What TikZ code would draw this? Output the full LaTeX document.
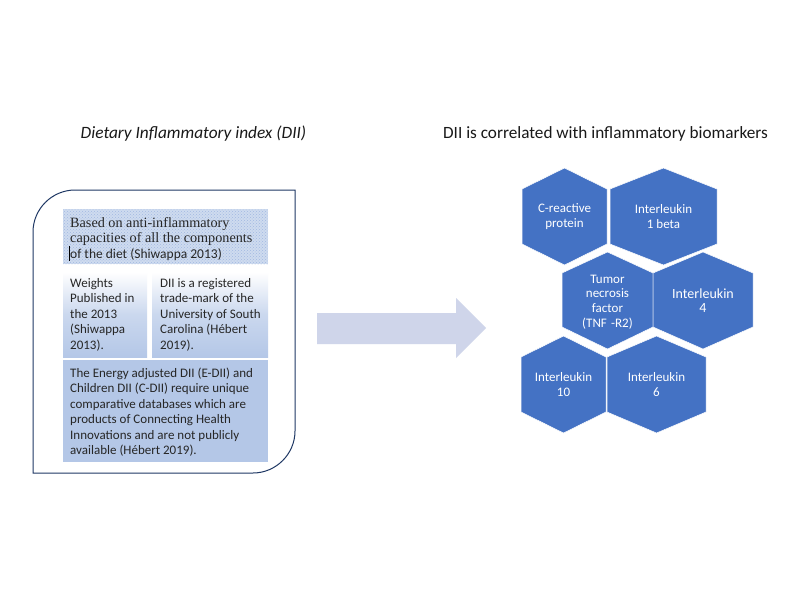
\documentclass[tikz,border=0pt]{standalone}
\usepackage{fontspec}
\setmainfont{Carlito}
\newfontfamily\bookface{Liberation Serif}
\usetikzlibrary{patterns}
\definecolor{hexblue}{HTML}{4472C4}
\definecolor{pale}{HTML}{B4C7E7}
\definecolor{navy}{HTML}{1F3864}
\definecolor{arrowc}{HTML}{CFD5EA}
\newcommand{\hexa}[8]{% name,left,right,top,upper,lower,bottom,text
  \fill[hexfill] (#2,#5) -- ({(#2+#3)/2},#4) -- (#3,#5) -- (#3,#6) -- ({(#2+#3)/2},#7) -- (#2,#6) -- cycle;
  \node[hextext] (#1) at ({(#2+#3)/2},{(#4+#7)/2}) {#8};}
\newcommand{\biglabel}{\fontsize{14}{15}\selectfont}
\tikzset{
  hexfill/.style={fill=hexblue,draw=white,line width=0.5pt},
  hextext/.style={text=white,font=\fontsize{13}{14.6}\selectfont,align=center,inner sep=0pt},
  boxtext/.style={anchor=north west,align=left,inner sep=0pt,text=black!85,font=\fontsize{13}{15.5}\selectfont},
  title/.style={inner sep=0pt,text=black!90}
}
\begin{document}
\begin{tikzpicture}[x=1pt,y=-1pt]
\useasboundingbox[fill=white] (0,0) rectangle (800,600);
\node[title,font=\fontsize{17.3}{20}\selectfont\itshape] (t1) at (193.5,134) {Dietary Inflammatory index (DII)};
\node[title,font=\fontsize{17.2}{20}\selectfont] (t2) at (605.5,134) {DII is correlated with inflammatory biomarkers};
% outer box
\draw[navy,line width=1pt] (33,473) -- (33,232) .. controls (33,209) and (52,190) .. (75,190) -- (295,190) -- (295,431) .. controls (295,454) and (276,473) .. (253,473) -- cycle;
% inner boxes
\fill[pale!65] (63,209) rectangle (268,264);
\fill[pattern=crosshatch dots,pattern color=hexblue!50] (63,209) rectangle (268,264);
\shade[top color=white,bottom color=pale,middle color=pale!70] (63,272) rectangle (147,357);
\shade[top color=white,bottom color=pale,middle color=pale!70] (152,272) rectangle (268,357);
\fill[pale] (63,360) rectangle (268,462);
\node[boxtext,font=\fontsize{14.2}{15.6}\selectfont] (b1) at (70,217) {{\bookface Based on anti-inflammatory}\\{\bookface capacities of all the components}\\{\fontsize{13.5}{15.6}\selectfont of the diet (Shiwappa 2013)}};
\draw[black,line width=0.5pt] (69.5,246) -- (69.5,261);
\node[boxtext] (b2) at (70,278) {Weights\\Published in\\the 2013\\(Shiwappa\\2013).};
\node[boxtext] (b3) at (160,278) {DII is a registered\\trade-mark of the\\University of South\\Carolina (Hébert\\2019).};
\node[boxtext] (b4) at (70,367.5) {The Energy adjusted DII (E-DII) and\\Children DII (C-DII) require unique\\comparative databases which are\\products of Connecting Health\\Innovations and are not publicly\\available (Hébert 2019).};
% arrow
\fill[arrowc] (317,313) -- (456,313) -- (456,298) -- (486,328) -- (456,358) -- (456,344) -- (317,344) -- cycle;
% hexagons
\hexa{h1}{522}{607}{168}{189}{244}{265}{C-reactive\\protein}
\hexa{h2}{610}{717}{168}{189}{244}{265}{Interleukin\\1 beta}
\begin{scope}[hextext/.append style={yshift=-1.5pt}]
\hexa{h3}{562}{653}{252}{273}{327}{349}{Tumor\\necrosis\\factor\\(TNF\,\,-R2)}
\end{scope}
\hexa{h4}{653}{753}{252}{273}{327}{349}{\biglabel Interleukin\\\biglabel 4}
\hexa{h5}{521}{606}{336}{357}{412}{433}{Interleukin\\10}
\hexa{h6}{607}{706}{336}{357}{412}{433}{Interleukin\\6}
\end{tikzpicture}
\end{document}
